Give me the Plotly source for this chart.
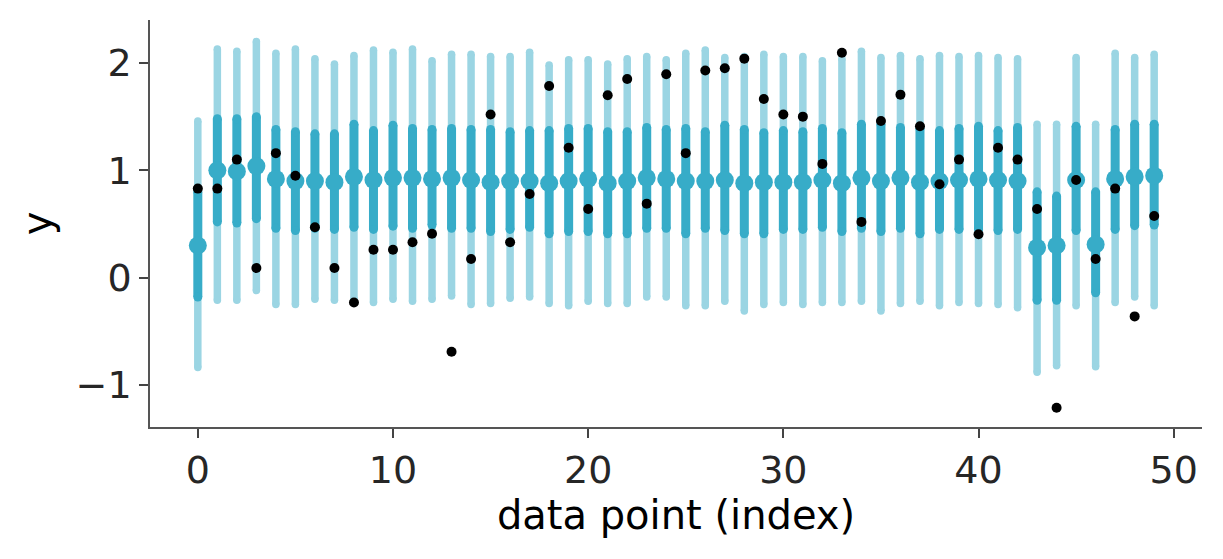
import plotly.graph_objects as go

# ── data ─────────────────────────────────────────────────────────────
idx = list(range(50))

# wide interval (light)
hdi_wide_hi = [1.46, 2.13, 2.11, 2.20, 2.09, 2.13, 2.04, 1.99, 2.07, 2.12,
               2.10, 2.13, 2.02, 2.08, 2.08, 2.06, 2.06, 2.10, 1.98, 2.03,
               2.03, 1.99, 2.04, 2.06, 2.03, 2.09, 2.12, 2.05, 2.06, 2.08,
               2.06, 2.06, 2.02, 2.04, 2.11, 2.05, 2.07, 2.04, 2.07, 2.06,
               2.07, 2.05, 2.04, 1.43, 1.43, 2.05, 1.43, 2.09, 2.05, 2.08]
hdi_wide_lo = [-0.835, -0.21, -0.21, -0.12, -0.25, -0.25, -0.20, -0.21, -0.20, -0.23,
               -0.20, -0.22, -0.20, -0.17, -0.25, -0.24, -0.19, -0.18, -0.24, -0.26,
               -0.22, -0.24, -0.24, -0.18, -0.18, -0.26, -0.26, -0.22, -0.31, -0.25,
               -0.23, -0.25, -0.23, -0.23, -0.22, -0.31, -0.24, -0.22, -0.26, -0.23,
               -0.24, -0.25, -0.28, -0.88, -0.82, -0.26, -0.83, -0.23, -0.18, -0.26]

# narrow interval (dark)
hdi_narrow_hi = [0.80, 1.48, 1.48, 1.50, 1.38, 1.36, 1.34, 1.34, 1.43, 1.37,
                 1.42, 1.39, 1.38, 1.39, 1.38, 1.38, 1.36, 1.37, 1.37, 1.39,
                 1.39, 1.36, 1.36, 1.40, 1.38, 1.39, 1.36, 1.42, 1.38, 1.35,
                 1.37, 1.36, 1.39, 1.35, 1.43, 1.43, 1.40, 1.39, 1.37, 1.39,
                 1.41, 1.37, 1.40, 0.80, 0.76, 1.41, 0.80, 1.38, 1.43, 1.43]
hdi_narrow_lo = [-0.18, 0.52, 0.51, 0.55, 0.46, 0.44, 0.46, 0.45, 0.47, 0.45,
                 0.48, 0.46, 0.49, 0.46, 0.46, 0.43, 0.45, 0.47, 0.41, 0.43,
                 0.43, 0.41, 0.41, 0.46, 0.46, 0.41, 0.46, 0.44, 0.41, 0.41,
                 0.45, 0.45, 0.47, 0.43, 0.46, 0.43, 0.46, 0.41, 0.45, 0.45,
                 0.45, 0.44, 0.45, -0.21, -0.21, 0.44, -0.14, 0.45, 0.485, 0.49]

y_mean = [0.30, 1.00, 0.99, 1.04, 0.92, 0.90, 0.90, 0.89, 0.94, 0.91,
          0.93, 0.93, 0.92, 0.93, 0.91, 0.89, 0.90, 0.90, 0.88, 0.90,
          0.92, 0.88, 0.90, 0.93, 0.92, 0.90, 0.90, 0.91, 0.88, 0.89,
          0.89, 0.89, 0.91, 0.88, 0.93, 0.90, 0.93, 0.89, 0.90, 0.91,
          0.92, 0.91, 0.90, 0.28, 0.30, 0.91, 0.31, 0.92, 0.94, 0.95]

y_obs = [0.83, 0.83, 1.10, 0.09, 1.16, 0.95, 0.47, 0.09, -0.23, 0.26,
         0.26, 0.33, 0.41, -0.69, 0.175, 1.52, 0.33, 0.78, 1.785, 1.21,
         0.64, 1.70, 1.85, 0.69, 1.895, 1.16, 1.93, 1.95, 2.04, 1.665,
         1.52, 1.50, 1.06, 2.095, 0.52, 1.46, 1.705, 1.41, 0.87, 1.10,
         0.405, 1.21, 1.10, 0.64, -1.21, 0.91, 0.175, 0.83, -0.36, 0.575]

DARK = "#37acc8"
LIGHT = "#9bd5e3"
FONT = "DejaVu Sans"


def segments(lo, hi):
    xs, ys = [], []
    for i, a, b in zip(idx, lo, hi):
        xs += [i, i, None]
        ys += [a, b, None]
    return xs, ys


fig = go.Figure()

# round caps: markers at both ends, same size as the line width
for lo, hi, color, w in [(hdi_wide_lo, hdi_wide_hi, LIGHT, 7.5),
                         (hdi_narrow_lo, hdi_narrow_hi, DARK, 9)]:
    xs, ys = segments(lo, hi)
    fig.add_trace(go.Scatter(
        x=xs, y=ys, mode="lines+markers",
        line=dict(color=color, width=w),
        marker=dict(color=color, size=w, line=dict(width=0)),
        hoverinfo="skip", showlegend=False,
    ))

fig.add_trace(go.Scatter(
    x=idx, y=y_mean, mode="markers",
    marker=dict(color=DARK, size=18, line=dict(width=0)),
    showlegend=False,
))
fig.add_trace(go.Scatter(
    x=idx, y=y_obs, mode="markers",
    marker=dict(color="black", size=10, line=dict(width=0)),
    showlegend=False,
))

axis_common = dict(
    showgrid=False, zeroline=False, automargin=False,
    showline=True, linecolor="#555555", linewidth=1.5,
    ticks="outside", ticklen=9, tickwidth=1.5, tickcolor="#444444",
    tickfont=dict(family=FONT, size=38, color="#262626"),
    mirror=False,
)

fig.update_xaxes(
    **axis_common,
    range=[-2.45, 51.45],
    tickvals=[0, 10, 20, 30, 40, 50],
    title=dict(text="data point (index)", font=dict(family=FONT, size=40, color="black"),
               standoff=6),
)
fig.update_yaxes(
    **axis_common,
    range=[-1.39, 2.40],
    tickvals=[-1, 0, 1, 2],
    title=dict(text="y", font=dict(family=FONT, size=40, color="black"), standoff=12),
)

# page body has an 8px margin, so the figure is a bit smaller than the window
fig.update_layout(
    width=1207, height=543,
    paper_bgcolor="white", plot_bgcolor="white",
    margin=dict(l=142, r=13, t=12, b=124),
    font=dict(family=FONT),
)

fig.write_html("out.html")
